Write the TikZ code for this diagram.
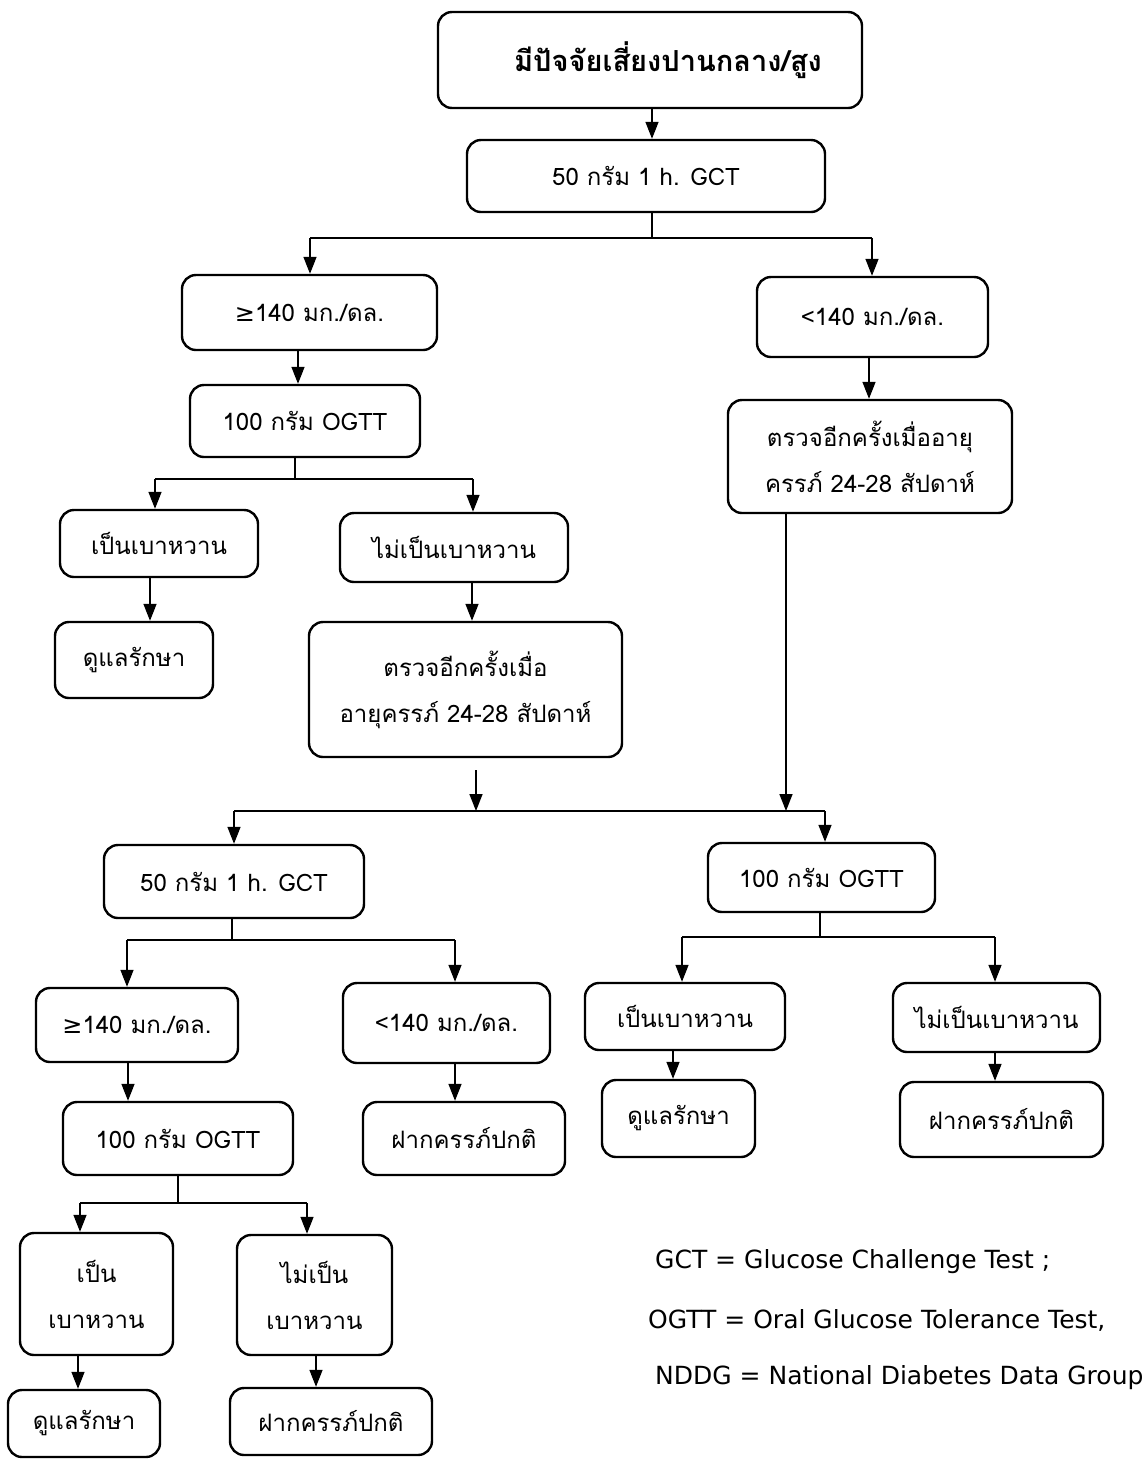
\documentclass[tikz,border=0pt]{standalone}
\usepackage{fontspec}
\setmainfont[Script=Thai]{Loma}
\newfontfamily\symf{DejaVu Sans}
\usetikzlibrary{arrows.meta}
\newcommand\bx[6]{\node[box, minimum width={(#4-#2)*1pt}, minimum height={(#5-#3)*1pt}] (#1) at ({(#2+#4)/2},{(#3+#5)/2}) {#6};}
\begin{document}
\begin{tikzpicture}[x=1pt,y=-1pt,
  box/.style={draw, line width=2.4pt, rounded corners=14pt, inner sep=0pt, align=center, font=\fontsize{24}{46}\selectfont},
  conn/.style={line width=1.5pt},
  arr/.style={line width=1.5pt, -{Triangle[width=13pt,length=17pt]}},
  legend/.style={anchor=west, inner sep=0pt, font=\symf\fontsize{25}{30}\selectfont}]
\useasboundingbox (0,0) rectangle (1147,1460);
% boxes
\bx{b1}{438}{12}{862}{108}{\hspace*{36pt}\fontsize{29}{34}\selectfont\bfseries มีปัจจัยเสี่ยงปานกลาง/สูง}
\bx{b2}{467}{140}{825}{212}{50 กรัม 1 h. GCT}
\bx{b3}{182}{275}{437}{350}{{\symf ≥}140 มก./ดล.}
\bx{r1}{757}{277}{988}{357}{<140 มก./ดล.}
\bx{b4}{190}{385}{420}{457}{100 กรัม OGTT}
\bx{r2}{728}{400}{1012}{513}{ตรวจอีกครั้งเมื่ออายุ\\ครรภ์ 24-28 สัปดาห์}
\bx{b5}{60}{510}{258}{577}{เป็นเบาหวาน}
\bx{b6}{340}{513}{568}{582}{ไม่เป็นเบาหวาน}
\bx{b5b}{55}{622}{213}{698}{ดูแลรักษา}
\bx{b7}{309}{622}{622}{757}{ตรวจอีกครั้งเมื่อ\\อายุครรภ์ 24-28 สัปดาห์}
\bx{b9}{104}{845}{364}{918}{50 กรัม 1 h. GCT}
\bx{r3}{708}{843}{935}{912}{100 กรัม OGTT}
\bx{b10}{36}{988}{238}{1062}{{\symf ≥}140 มก./ดล.}
\bx{b11}{343}{983}{550}{1063}{<140 มก./ดล.}
\bx{r4}{585}{983}{785}{1050}{เป็นเบาหวาน}
\bx{r5}{893}{983}{1100}{1052}{ไม่เป็นเบาหวาน}
\bx{b12}{63}{1102}{293}{1175}{100 กรัม OGTT}
\bx{b13}{363}{1102}{565}{1175}{ฝากครรภ์ปกติ}
\bx{r4b}{602}{1080}{755}{1157}{ดูแลรักษา}
\bx{r5b}{900}{1082}{1103}{1157}{ฝากครรภ์ปกติ}
\bx{b14}{20}{1233}{173}{1355}{เป็น\\เบาหวาน}
\bx{b15}{237}{1235}{392}{1355}{ไม่เป็น\\เบาหวาน}
\bx{b16}{8}{1390}{160}{1457}{ดูแลรักษา}
\bx{b17}{230}{1388}{432}{1455}{ฝากครรภ์ปกติ}
% legend
\node[legend] (lg1) at (655,1262) {GCT = Glucose Challenge Test ;};
\node[legend] (lg2) at (648,1320) {OGTT = Oral Glucose Tolerance Test,};
\node[legend] (lg3) at (655,1378) {NDDG = National Diabetes Data Group};
% connector x positions
\coordinate (a12) at (652,0);
\coordinate (a34) at (298,0);
\coordinate (ar12) at (869,0);
\coordinate (a55) at (150,0);
\coordinate (a67) at (472,0);
\coordinate (a7) at (476,0);
\coordinate (ar2) at (786,0);
\coordinate (ar44) at (673,0);
\coordinate (ar55) at (995,0);
\coordinate (a1012) at (128,0);
\coordinate (a1113) at (455,0);
\coordinate (a1416) at (78,0);
\coordinate (a1517) at (316,0);
% junctions
\coordinate (j1) at (652,238); \coordinate (j1L) at (310,238); \coordinate (j1R) at (872,238);
\coordinate (j2) at (295,479); \coordinate (j2L) at (155,479); \coordinate (j2R) at (473,479);
\coordinate (j3L) at (234,811); \coordinate (j3R) at (825,811);
\coordinate (j4) at (232,940); \coordinate (j4L) at (127,940); \coordinate (j4R) at (455,940);
\coordinate (j5) at (820,937); \coordinate (j5L) at (682,937); \coordinate (j5R) at (995,937);
\coordinate (j6) at (178,1203); \coordinate (j6L) at (80,1203); \coordinate (j6R) at (307,1203);
% connectors
\draw[arr] (b1.south -| a12) -- (b2.north -| a12);
\draw[conn] (b2.south -| j1) -- (j1);
\draw[conn] (j1L) -- (j1R);
\draw[arr] (j1L) -- (b3.north -| j1L);
\draw[arr] (j1R) -- (r1.north -| j1R);
\draw[arr] (b3.south -| a34) -- (b4.north -| a34);
\draw[arr] (r1.south -| ar12) -- (r2.north -| ar12);
\draw[conn] (b4.south -| j2) -- (j2);
\draw[conn] (j2L) -- (j2R);
\draw[arr] (j2L) -- (b5.north -| j2L);
\draw[arr] (j2R) -- (b6.north -| j2R);
\draw[arr] (b5.south -| a55) -- (b5b.north -| a55);
\draw[arr] (b6.south -| a67) -- (b7.north -| a67);
\draw[arr, shorten <=12pt] (b7.south -| a7) -- (j3L -| a7);
\draw[arr] (r2.south -| ar2) -- (j3L -| ar2);
\draw[conn] (j3L) -- (j3R);
\draw[arr] (j3L) -- (b9.north -| j3L);
\draw[arr] (j3R) -- (r3.north -| j3R);
\draw[conn] (b9.south -| j4) -- (j4);
\draw[conn] (j4L) -- (j4R);
\draw[arr] (j4L) -- (b10.north -| j4L);
\draw[arr] (j4R) -- (b11.north -| j4R);
\draw[conn] (r3.south -| j5) -- (j5);
\draw[conn] (j5L) -- (j5R);
\draw[arr] (j5L) -- (r4.north -| j5L);
\draw[arr] (j5R) -- (r5.north -| j5R);
\draw[arr] (r4.south -| ar44) -- (r4b.north -| ar44);
\draw[arr] (r5.south -| ar55) -- (r5b.north -| ar55);
\draw[arr] (b10.south -| a1012) -- (b12.north -| a1012);
\draw[arr] (b11.south -| a1113) -- (b13.north -| a1113);
\draw[conn] (b12.south -| j6) -- (j6);
\draw[conn] (j6L) -- (j6R);
\draw[arr] (j6L) -- (b14.north -| j6L);
\draw[arr] (j6R) -- (b15.north -| j6R);
\draw[arr] (b14.south -| a1416) -- (b16.north -| a1416);
\draw[arr] (b15.south -| a1517) -- (b17.north -| a1517);
\end{tikzpicture}
\end{document}
